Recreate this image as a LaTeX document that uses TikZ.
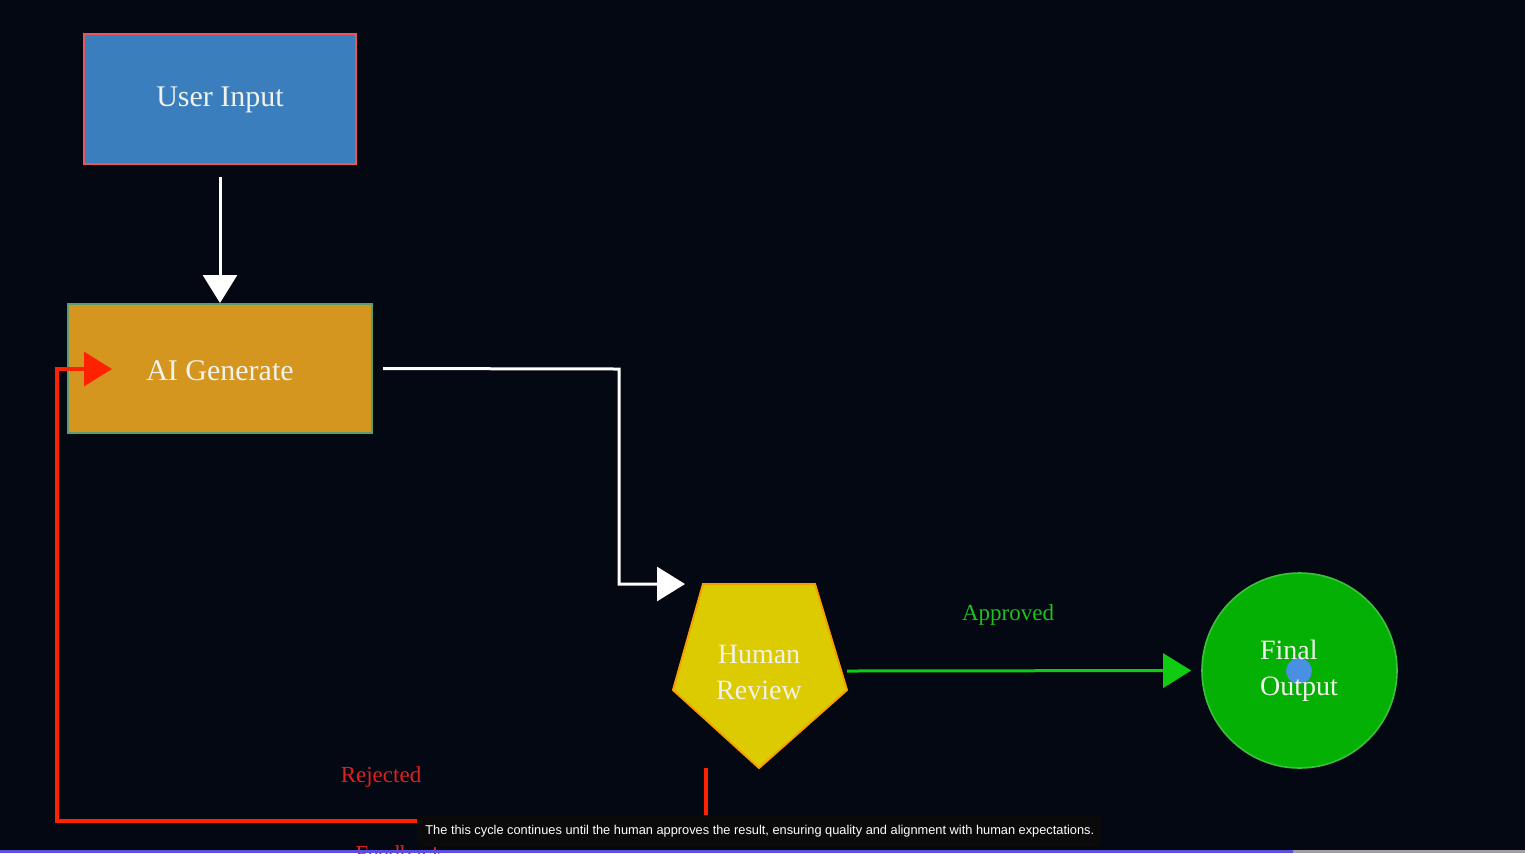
\documentclass[tikz,border=0pt]{standalone}
\usepackage{fontspec}
\setmainfont{Liberation Serif}
\newfontfamily\subfont{Liberation Sans}
\usetikzlibrary{arrows.meta}
\definecolor{bg}{RGB}{3,8,18}
\definecolor{uifill}{RGB}{58,126,190}
\definecolor{uidraw}{RGB}{232,87,90}
\definecolor{aifill}{RGB}{212,150,31}
\definecolor{aidraw}{RGB}{90,158,112}
\definecolor{hrfill}{RGB}{220,203,0}
\definecolor{hrdraw}{RGB}{245,160,0}
\definecolor{fofill}{RGB}{4,176,4}
\definecolor{fodraw}{RGB}{60,192,60}
\definecolor{garrow}{RGB}{16,204,16}
\definecolor{gtext}{RGB}{32,192,32}
\definecolor{rline}{RGB}{255,34,0}
\definecolor{rtext}{RGB}{224,32,32}
\definecolor{txt}{RGB}{242,242,236}
\definecolor{cursor}{RGB}{74,144,226}
\definecolor{subbg}{RGB}{10,10,10}
\definecolor{barp}{RGB}{91,79,224}
\definecolor{barg}{RGB}{160,160,160}
\begin{document}
\begin{tikzpicture}[x=0.5pt,y=-0.5pt,
  boxnode/.style={draw, line width=1pt, text=txt, font=\fontsize{15}{18}\selectfont, inner sep=0pt},
  conn/.style={line width=1.5pt, -{Triangle[width=17pt,length=14pt]}},
  lbl/.style={font=\fontsize{11.5}{14}\selectfont, inner sep=0pt}
]
\useasboundingbox (0,0) rectangle (1525,853);
\clip (0,0) rectangle (1525,853);
\fill[bg] (0,0) rectangle (1525,853);

% nodes
\node[boxnode, fill=uifill, draw=uidraw, minimum width=136pt, minimum height=65pt] (ui) at (220,99) {};
\node[text=txt, font=\fontsize{15}{18}\selectfont] (uit) at (220,100) {User Input};
\node[boxnode, fill=aifill, draw=aidraw, minimum width=152pt, minimum height=64.5pt] (ai) at (220,368.5) {};
\node[text=txt, font=\fontsize{15}{18}\selectfont] (ait) at (220,371) {AI Generate};

\filldraw[fill=hrfill, draw=hrdraw, line width=1pt, line join=miter]
  (703,584) -- (815,584) -- (847,690) -- (759,768) -- (673,690) -- cycle;
\node[text=txt, align=center, font=\fontsize{14}{18}\selectfont] (hr) at (759,672) {Human\\Review};

\node[circle, fill=fofill, draw=fodraw, line width=0.8pt, minimum size=97.5pt, inner sep=0pt] (fo) at (1299.5,670.5) {};
\fill[cursor] (1299,671) circle (6.5pt);
\node[text=txt, align=left, font=\fontsize{14}{18}\selectfont] (fot) at (1299,671) {Final\\Output};

% coordinates
\coordinate (b1) at (619,369);
\coordinate (hrin) at (685,584);
\coordinate (hre) at (847,671);
\coordinate (hrs) at (706,768);
\coordinate (r1) at (706,821);
\coordinate (r2) at (57,369);
\coordinate (aiin) at (112,369);

% connectors
\draw[conn, white, shorten <=6pt] (ui.south) -- (ai.north);
\draw[conn, white, shorten <=5pt] (ai.east) -- (b1) |- (hrin);
\draw[conn, garrow, shorten >=5pt] (hre) -- (fo.west);
\draw[conn, rline, line width=1.7pt] (hrs) -- (r1) -| (r2) -- (aiin);

% labels
\node[lbl, text=gtext] (appr) at (1008,615) {Approved};
\node[lbl, text=rtext] (rej) at (381,777) {Rejected};
\node[lbl, text=rtext, anchor=north west] (fb) at (355,845) {Feedback};

% subtitle overlay
\fill[subbg, rounded corners=2pt] (417,815) rectangle (1102,847);
\node[text=white, font=\subfont\fontsize{6.4}{7.5}\selectfont, anchor=west, inner sep=0pt] (sub) at (425,831) {The this cycle continues until the human approves the result, ensuring quality and alignment with human expectations.};

% progress bar
\fill[barp] (0,850) rectangle (1293,853);
\fill[barg] (1293,850) rectangle (1525,853);
\end{tikzpicture}
\end{document}
